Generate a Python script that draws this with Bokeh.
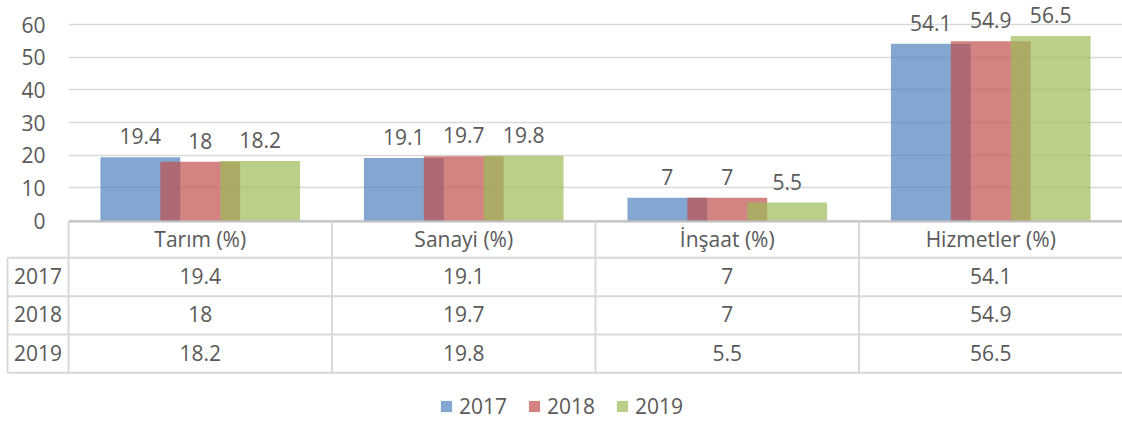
from bokeh.plotting import figure
from bokeh.models import Range1d, FixedTicker, Legend, LegendItem
from bokeh.embed import file_html
from bokeh.resources import INLINE
from bokeh.core.properties import value

# ---------------- data ----------------
categories = ["Tarım (%)", "Sanayi (%)", "İnşaat (%)", "Hizmetler (%)"]
years = ["2017", "2018", "2019"]
v2017 = [19.4, 19.1, 7, 54.1]
v2018 = [18, 19.7, 7, 54.9]
v2019 = [18.2, 19.8, 5.5, 56.5]
y_ticks = [0, 10, 20, 30, 40, 50, 60]

series = [v2017, v2018, v2019]
colors = ["#4F81BD", "#C0504D", "#9BBB59"]

# ---------------- style / layout ----------------
FNAME = "Open Sans"
FONT = value(FNAME)
TXT = "#595959"
FS = "21px"
W = 1122
LEFT = 68
BASE = 220          # pixel row of the zero line
EXTRA = 18          # chart canvas extends below zero line (for the "0" label)
H_TOP = BASE + EXTRA
H_BOT = 421 - BASE
PX_PER_UNIT = 196 / 60.0
BAR_W = 0.303
BAR_STEP = 0.2273
GRID = "#D9D9D9"
UNIT_PX = (W - LEFT) / len(categories)


def fmt(v):
    return f"{v:g}"


# ---------------- chart ----------------
p = figure(width=W, height=H_TOP, x_range=Range1d(0, len(categories)),
           y_range=Range1d(-EXTRA / PX_PER_UNIT, BASE / PX_PER_UNIT),
           min_border_left=LEFT, min_border_right=0, min_border_top=0, min_border_bottom=0,
           toolbar_location=None, output_backend="svg", x_axis_location=None)
p.outline_line_color = None
p.background_fill_alpha = 0
p.border_fill_alpha = 0
p.xgrid.visible = False
p.ygrid.grid_line_color = GRID
p.ygrid.grid_line_width = 1.5
p.ygrid.ticker = FixedTicker(ticks=y_ticks)
ax = p.yaxis[0]
ax.ticker = FixedTicker(ticks=y_ticks)
ax.axis_line_color = None
ax.major_tick_line_color = None
ax.minor_tick_line_color = None
ax.major_tick_out = 0
ax.major_tick_in = 0
ax.major_label_standoff = 23
ax.major_label_text_font = FNAME
ax.major_label_text_font_size = FS
ax.major_label_text_color = TXT

for j, vals in enumerate(series):
    xs = [i + 0.5 + (j - 1) * BAR_STEP for i in range(len(categories))]
    p.vbar(x=xs, top=vals, width=BAR_W, fill_color=colors[j], fill_alpha=0.7, line_color=None)
    p.text(x=xs, y=vals, text=[fmt(v) for v in vals], text_align="center",
           text_baseline="alphabetic", y_offset=-21, text_font=FONT,
           text_font_size=FS, text_color=TXT)

# ---------------- data table ----------------
x_left = -LEFT / UNIT_PX
t = figure(width=W, height=H_BOT, x_range=Range1d(x_left, len(categories)),
           y_range=Range1d(H_BOT, 0),
           min_border_left=0, min_border_right=0, min_border_top=0, min_border_bottom=0,
           toolbar_location=None, output_backend="svg",
           x_axis_location=None, y_axis_location=None)
t.outline_line_color = None
t.background_fill_alpha = 0
t.border_fill_alpha = 0
t.grid.visible = False
t.margin = (-EXTRA, 0, 0, 0)

HEADER_H = 37.3
ROW_H = 38.35
n = len(categories)
table_bottom = HEADER_H + ROW_H * len(years)
col_left = (7 - LEFT) / UNIT_PX

# top (axis) line
t.segment(x0=[0], y0=[1], x1=[n], y1=[1], line_color="#BFBFBF", line_width=2)
# horizontal row lines
hy = [HEADER_H + k * ROW_H for k in range(len(years) + 1)]
t.segment(x0=[col_left] * len(hy), y0=hy, x1=[n] * len(hy), y1=hy,
          line_color=GRID, line_width=2)
# vertical lines
vx = list(range(n))
t.segment(x0=vx, y0=[1] * n, x1=vx, y1=[table_bottom] * n, line_color=GRID, line_width=2)
t.segment(x0=[col_left], y0=[HEADER_H], x1=[col_left], y1=[table_bottom],
          line_color=GRID, line_width=2)

# header text
t.text(x=[i + 0.5 for i in range(n)], y=[HEADER_H / 2] * n, text=categories,
       text_align="center", text_baseline="middle", text_font=FONT,
       text_font_size=FS, text_color=TXT)
# rows
for r, (yr, vals) in enumerate(zip(years, series)):
    yc = HEADER_H + (r + 0.5) * ROW_H - 1
    t.text(x=[i + 0.5 for i in range(n)], y=[yc] * n, text=[fmt(v) for v in vals],
           text_align="center", text_baseline="middle", text_font=FONT,
           text_font_size=FS, text_color=TXT)
    t.text(x=[(col_left + 0) / 2], y=[yc], text=[yr], text_align="center",
           text_baseline="middle", text_font=FONT, text_font_size=FS, text_color=TXT)

# legend (proxy renderers of zero height)
items = []
for yr, c in zip(years, colors):
    r = t.vbar(x=[0], top=[0], bottom=[0], width=0, fill_color=c, fill_alpha=0.7,
               line_color=None)
    items.append(LegendItem(label=yr, renderers=[r]))
leg = Legend(items=items, orientation="horizontal", location=(439, 1),
             border_line_color=None, background_fill_alpha=0,
             label_text_font=FNAME, label_text_font_size=FS, label_text_color=TXT,
             glyph_width=14, glyph_height=14, label_standoff=6, spacing=20,
             padding=0, margin=0)
t.add_layout(leg)

open("out.html", "w").write(file_html([p, t], INLINE))
